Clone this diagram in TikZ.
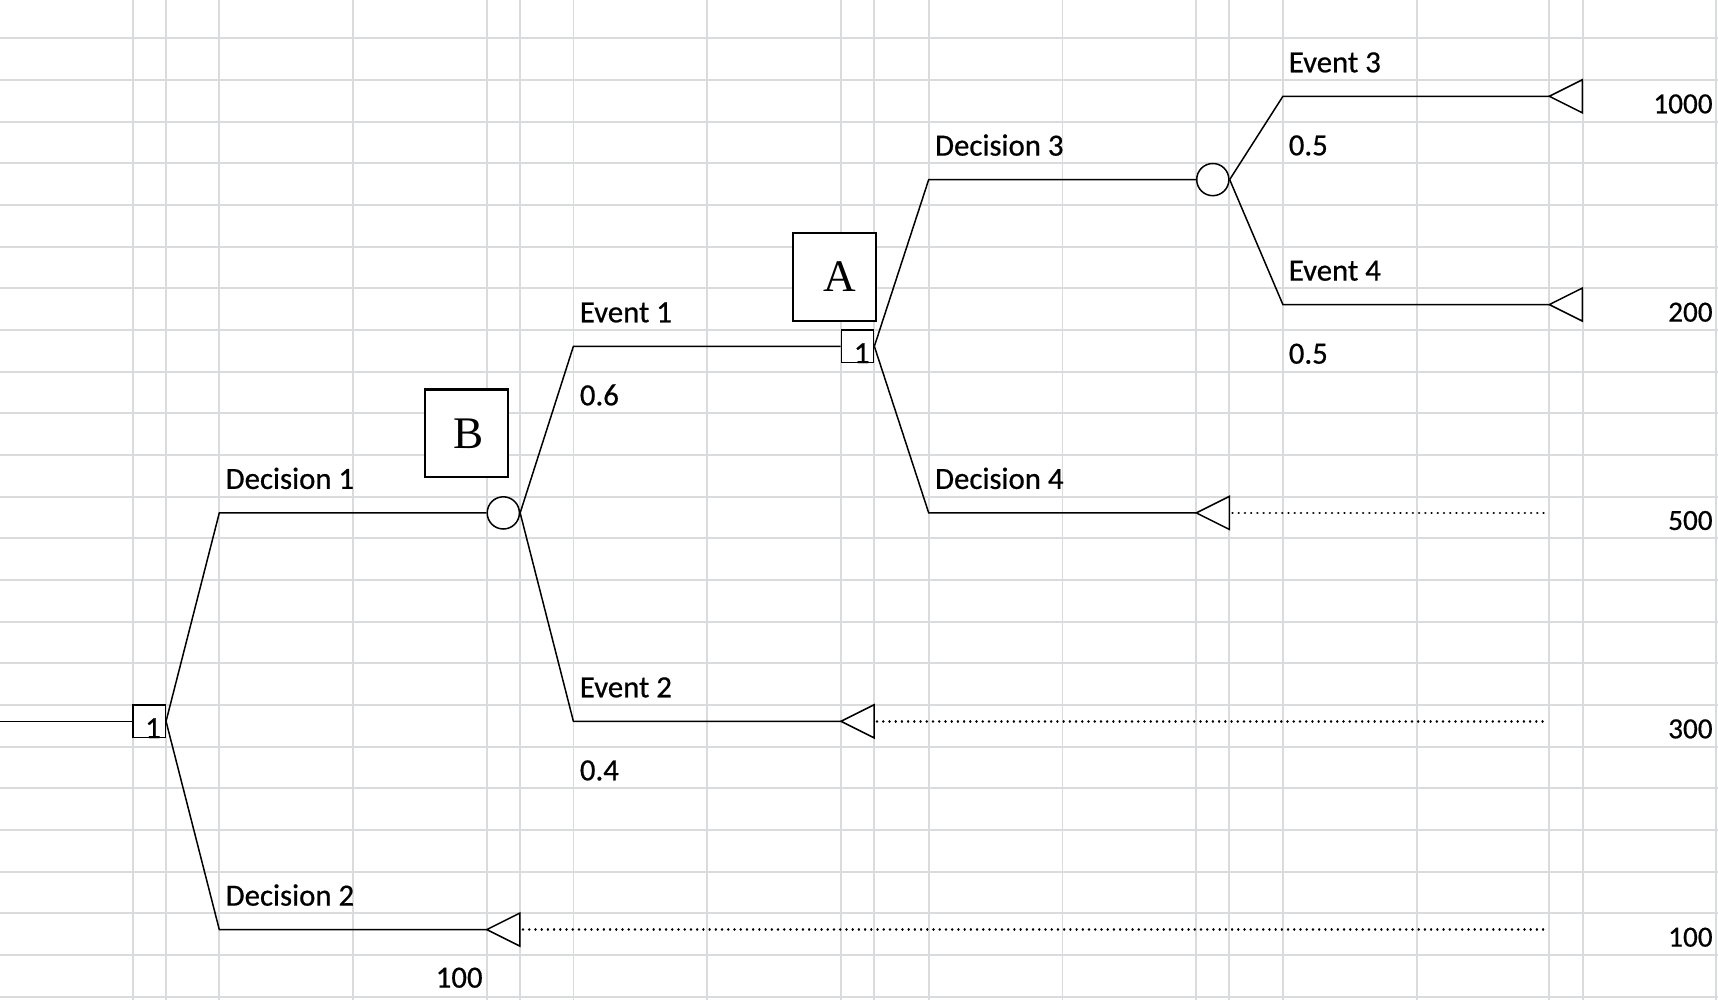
\documentclass[tikz,border=0pt]{standalone}
\usepackage{fontspec}
\setmainfont{Carlito}[RawFeature = {embolden=0.6}]
\newfontfamily\markfont{Liberation Serif}
\usepackage{xcolor}
\usepackage{tikz}
\usetikzlibrary{shapes.geometric}
\usetikzlibrary{arrows}

\definecolor{gridgray}{RGB}{218, 219, 221}

\begin{document}
\begin{tikzpicture}[x = 0.5pt, y = -0.5pt,
    gridline/.style = {color = gridgray, line width = 0.9pt},
    branch/.style = {line width = 0.75pt},
    decnode/.style = {draw, fill = white, line width = 0.75pt,
        minimum size = 16.1pt, inner sep = 0pt},
    chancenode/.style = {draw, circle, fill = white, line width = 0.75pt,
        minimum size = 16.1pt, inner sep = 0pt},
    terminal/.style = {draw = black, fill = white, line width = 0.75pt,
        line join = miter},
    payoffline/.style = {line width = 1.3pt, line cap = round,
        dash pattern = on 0.01pt off 3.1pt},
    markbox/.style = {draw, fill = white, line width = 1.1pt,
        minimum width = 41.4pt, minimum height = 43.9pt, inner sep = 0pt,
        font = \markfont\fontsize{22.6}{26}\selectfont},
    lbl/.style = {inner sep = 0pt, font = \fontsize{15.4}{18}\selectfont},
    val/.style = {inner sep = 0pt, anchor = base east,
        font = \fontsize{14.6}{17}\selectfont}]
\useasboundingbox (0, 0) rectangle (1718, 1000);

% sheet grid
\foreach \gx in {132.7, 165.6, 219.3, 353.1, 486.8, 519.7, 573.4, 707.2,
    841, 873.9, 928.7, 1062.5, 1196.3, 1229.2, 1282.9, 1416.7, 1549.3,
    1583.3, 1716}
    \draw [gridline] (\gx, 0) -- (\gx, 1000);
\foreach \k in {0, ..., 23}
    \draw [gridline] (0, {38.3 + 41.667*\k}) -- (1718, {38.3 + 41.667*\k});

% decision and chance nodes
\coordinate (root) at (0, 721.3);
\node [decnode] (sq1) at (149.2, 721.3) {};
\node [chancenode] (ch1) at (503.3, 512.9) {};
\node [decnode] (sq2) at (857.5, 346.3) {};
\node [chancenode] (ch2) at (1212.8, 179.6) {};

% corners of the branches
\coordinate (d1) at (219.3, 512.9);
\coordinate (d2) at (219.3, 929.6);
\coordinate (e1) at (573.4, 346.3);
\coordinate (e2) at (573.4, 721.3);
\coordinate (d3) at (928.7, 179.6);
\coordinate (d4) at (928.7, 512.9);
\coordinate (e3) at (1282.9, 96.3);
\coordinate (e4) at (1282.9, 304.6);

% end points
\coordinate (endD2) at (486.8, 929.6);
\coordinate (endE2) at (841, 721.3);
\coordinate (endD4) at (1196.3, 512.9);
\coordinate (endE3) at (1549.3, 96.3);
\coordinate (endE4) at (1549.3, 304.6);

\draw [branch] (root) -- (sq1.west);
\draw [branch] (sq1.east) -- (d1) -- (ch1.west);
\draw [branch] (sq1.east) -- (d2) -- (endD2);
\draw [branch] (ch1.east) -- (e1) -- (sq2.west);
\draw [branch] (ch1.east) -- (e2) -- (endE2);
\draw [branch] (sq2.east) -- (d3) -- (ch2.west);
\draw [branch] (sq2.east) -- (d4) -- (endD4);
\draw [branch] (ch2.east) -- (e3) -- (endE3);
\draw [branch] (ch2.east) -- (e4) -- (endE4);

\filldraw [terminal] (endD2) -- ++(33, -16.5) -- ++(0, 33) -- cycle;
\filldraw [terminal] (endE2) -- ++(33, -16.5) -- ++(0, 33) -- cycle;
\filldraw [terminal] (endD4) -- ++(33, -16.5) -- ++(0, 33) -- cycle;
\filldraw [terminal] (endE3) -- ++(33, -16.5) -- ++(0, 33) -- cycle;
\filldraw [terminal] (endE4) -- ++(33, -16.5) -- ++(0, 33) -- cycle;

% rolled back lines
\coordinate (dotD2) at (523, 929.6);
\coordinate (dotE2) at (877, 721.3);
\coordinate (dotD4) at (1232.5, 512.9);
\draw [payoffline] (dotD2) -- (1547, 929.6);
\draw [payoffline] (dotE2) -- (1543, 721.3);
\draw [payoffline] (dotD4) -- (1547, 512.9);

% branch texts
\node [lbl, anchor = base east] (one1) at ([xshift = -2.4pt]sq1.south east) {1};
\node [lbl, anchor = base east] (one2) at ([xshift = -2.2pt]sq2.south east) {1};
\node [lbl, anchor = base west] (tD1) at (225.3, 488.9) {Decision 1};
\node [lbl, anchor = base west] (tD2) at (225.3, 905.6) {Decision 2};
\node [lbl, anchor = base east] (tP0) at (483, 987.6) {100};
\node [lbl, anchor = base west] (tE1) at (579.5, 322.3) {Event 1};
\node [lbl, anchor = base west] (tP1) at (579.5, 405.3) {0.6};
\node [lbl, anchor = base west] (tE2) at (579.5, 697.3) {Event 2};
\node [lbl, anchor = base west] (tP2) at (579.5, 780.3) {0.4};
\node [lbl, anchor = base west] (tD3) at (934.7, 155.6) {Decision 3};
\node [lbl, anchor = base west] (tD4) at (934.7, 488.9) {Decision 4};
\node [lbl, anchor = base west] (tE3) at (1288.4, 72.3) {Event 3};
\node [lbl, anchor = base west] (tP3) at (1288.4, 155.3) {0.5};
\node [lbl, anchor = base west] (tE4) at (1288.4, 280.6) {Event 4};
\node [lbl, anchor = base west] (tP4) at (1288.4, 363.6) {0.5};

% payoffs
\node [val] (v1) at (1713, 113.3) {1000};
\node [val] (v2) at (1713, 321.6) {200};
\node [val] (v3) at (1713, 529.9) {500};
\node [val] (v4) at (1713, 738.3) {300};
\node [val] (v5) at (1713, 946.6) {100};

% marker boxes
\node [markbox] (boxB) at (466.5, 433.3) {\hspace*{2pt}B};
\node [markbox] (boxA) at (834.5, 277) {\hspace*{5pt}A};
\end{tikzpicture}
\end{document}
